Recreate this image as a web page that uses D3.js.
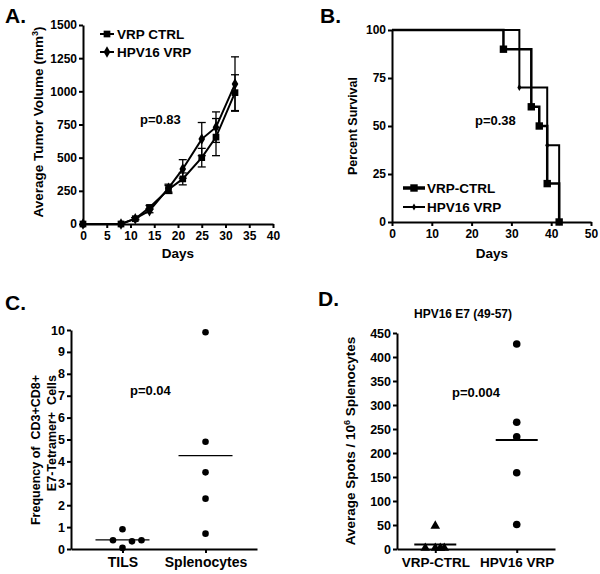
<!DOCTYPE html>
<html><head><meta charset="utf-8">
<script src="https://cdn.jsdelivr.net/npm/d3@7"></script>
<style>body{margin:0;background:#fff}svg{display:block}text{font-family:"Liberation Sans",Arial,sans-serif;font-weight:bold;fill:#000}</style>
</head><body><svg id="c" width="600" height="574"></svg>
<script>
// Panel A data
const daysA = [0, 8, 11, 14, 18, 21, 25, 28, 32];
const ctrlMean = [0, 0, 40, 125, 260, 340, 500, 655, 990];
const ctrlErr  = [0, 0, 8, 15, 30, 45, 70, 140, 135];
const hpvMean  = [0, 0, 40, 100, 270, 415, 640, 730, 1055];
const hpvErr   = [0, 0, 8, 15, 30, 70, 125, 115, 205];
const xTicksA = [0,5,10,15,20,25,30,35,40];
const yTicksA = [0,250,500,750,1000,1250,1500];
// Panel B data (Kaplan-Meier steps)
const survCtrlDays = [0, 28, 35, 37, 39, 42];
const survCtrlPct  = [100, 90, 60, 50, 20, 0];
const survHpvDays  = [0, 32, 39, 42];
const survHpvPct   = [100, 70, 40, 0];
const xTicksB = [0,10,20,30,40,50];
const yTicksB = [0,25,50,75,100];
// Panel C data
const catsC = ["TILS", "Splenocytes"];
const tilsVals = [0.9, 0.4, 0.35, 0.4, 0.05];
const tilsJitter = [0, -1, 1, 2, 0];
const splenoVals = [9.9, 4.9, 3.5, 2.3, 0.7];
const splenoJitter = [0, 0, 0, 0, 0];
const yTicksC = [0,1,2,3,4,5,6,7,8,9,10];
// Panel D data
const catsD = ["VRP-CTRL", "HPV16 VRP"];
const ctrlSpots = [46, 0, 0, 0, 0];
const ctrlJitter = [0, -2, 0, 1, 1.8];
const hpvSpots = [427, 264, 234, 159, 51];
const hpvJitter = [0, 0, 0, 0, 0];
const yTicksD = [0,50,100,150,200,250,300,350,400,450];

const svg = d3.select("#c");
const mean = a => d3.mean(a);
const fmt = d3.format("d");

function styleAxis(g,fs){
  g.selectAll(".domain").attr("stroke","#000").attr("stroke-width",2);
  g.selectAll(".tick line").attr("stroke","#000").attr("stroke-width",2);
  g.selectAll(".tick text").style("font-size",(fs||12)+"px").style("font-weight","bold").attr("fill","#000");
}
function rotLabel(x,y,txt,size,anchor){
  return svg.append("text").attr("transform",`translate(${x},${y}) rotate(-90)`)
    .attr("text-anchor",anchor||"middle").style("font-size",(size||13)+"px").text(txt);
}
function label(x,y,txt,size,anchor){
  return svg.append("text").attr("x",x).attr("y",y).attr("text-anchor",anchor||"start").style("font-size",(size||13)+"px").text(txt);
}

// ---------- Panel A ----------
{
  const x = d3.scaleLinear().domain([0,40]).range([83,273]);
  const y = d3.scaleLinear().domain([0,1500]).range([224,25]);
  const gx = svg.append("g").attr("transform","translate(0,224)").call(d3.axisBottom(x).tickValues(xTicksA).tickFormat(fmt).tickSize(4).tickSizeOuter(0).tickPadding(3));
  styleAxis(gx,12);
  const gy = svg.append("g").attr("transform","translate(83,0)").call(d3.axisLeft(y).tickValues(yTicksA).tickFormat(fmt).tickSize(4).tickSizeOuter(0).tickPadding(2));
  styleAxis(gy,12);
  const line = d3.line().x(d=>x(d[0])).y(d=>y(d[1]));
  const series = [
    {m:ctrlMean,e:ctrlErr,shape:"square"},
    {m:hpvMean,e:hpvErr,shape:"diamond"}
  ];
  series.forEach(s=>{
    const pts = daysA.map((d,i)=>[d,s.m[i],s.e[i]]);
    svg.append("path").attr("d",line(pts)).attr("fill","none").attr("stroke","#000").attr("stroke-width",2);
    pts.forEach(p=>{
      if(p[2]>0){
        const cx=x(p[0]);
        svg.append("line").attr("x1",cx).attr("x2",cx).attr("y1",y(p[1]-p[2])).attr("y2",y(p[1]+p[2])).attr("stroke","#000").attr("stroke-width",1.3);
        [p[1]-p[2],p[1]+p[2]].forEach(v=>svg.append("line").attr("x1",cx-4).attr("x2",cx+4).attr("y1",y(v)).attr("y2",y(v)).attr("stroke","#000").attr("stroke-width",1.3));
      }
    });
    svg.selectAll(null).data(pts).enter().append("path")
      .attr("transform",p=>`translate(${x(p[0])},${y(p[1])})`)
      .attr("d",d3.symbol().type(s.shape==="square"?d3.symbolSquare:d3.symbolDiamond).size(s.shape==="square"?45:38))
      .attr("fill","#000");
  });
  label(5,23,"A.",21);
  const t = svg.append("text").attr("transform","translate(43,122) rotate(-90)").attr("text-anchor","middle").style("font-size","13.5px");
  t.append("tspan").text("Average Tumor Volume (mm");
  t.append("tspan").attr("dy",-5).style("font-size","9px").text("3");
  t.append("tspan").attr("dy",5).text(")");
  label(178,258,"Days",13.5,"middle");
  label(140,124,"p=0.83",13);
  // legend
  [["VRP CTRL",d3.symbolSquare,45,34],["HPV16 VRP",d3.symbolDiamond,38,52]].forEach(l=>{
    svg.append("line").attr("x1",100).attr("x2",114).attr("y1",l[3]).attr("y2",l[3]).attr("stroke","#000").attr("stroke-width",2);
    svg.append("path").attr("transform",`translate(107,${l[3]})`).attr("d",d3.symbol().type(l[1]).size(l[2])).attr("fill","#000");
    label(117,l[3]+5,l[0],13.5);
  });
}

// ---------- Panel B ----------
{
  const x = d3.scaleLinear().domain([0,50]).range([392,591]);
  const y = d3.scaleLinear().domain([0,100]).range([222,30]);
  const gx = svg.append("g").attr("transform","translate(0,222)").call(d3.axisBottom(x).tickValues(xTicksB).tickFormat(fmt).tickSize(4).tickSizeOuter(0).tickPadding(3));
  styleAxis(gx,12);
  const gy = svg.append("g").attr("transform","translate(392,0)").call(d3.axisLeft(y).tickValues(yTicksB).tickFormat(fmt).tickSize(4).tickSizeOuter(0).tickPadding(2));
  styleAxis(gy,12);
  const step = d3.line().x(d=>x(d[0])).y(d=>y(d[1])).curve(d3.curveStepAfter);
  const hp = survHpvDays.map((d,i)=>[d,survHpvPct[i]]);
  const cp = survCtrlDays.map((d,i)=>[d,survCtrlPct[i]]);
  svg.append("path").attr("d",step(hp)).attr("fill","none").attr("stroke","#000").attr("stroke-width",2);
  svg.append("path").attr("d",step(cp)).attr("fill","none").attr("stroke","#000").attr("stroke-width",2.5);
  svg.selectAll(null).data(cp.slice(1)).enter().append("path")
    .attr("transform",p=>`translate(${x(p[0])},${y(p[1])})`).attr("d",d3.symbol().type(d3.symbolSquare).size(55)).attr("fill","#000");
  svg.selectAll(null).data(hp.slice(1)).enter().append("path")
    .attr("transform",p=>`translate(${x(p[0])},${y(p[1])})`).attr("d",d3.symbol().type(d3.symbolDiamond).size(14)).attr("fill","#000");
  label(320,23,"B.",21);
  rotLabel(357,126,"Percent Survival",12.5);
  label(492,258,"Days",13.5,"middle");
  label(475,125,"p=0.38",13);
  [["VRP-CTRL",d3.symbolSquare,55,3.5,188],["HPV16 VRP",d3.symbolDiamond,14,2,207]].forEach(l=>{
    svg.append("line").attr("x1",403).attr("x2",425).attr("y1",l[4]).attr("y2",l[4]).attr("stroke","#000").attr("stroke-width",l[3]);
    svg.append("path").attr("transform",`translate(414,${l[4]})`).attr("d",d3.symbol().type(l[1]).size(l[2])).attr("fill","#000");
    label(427,l[4]+5,l[0],13.5);
  });
}

// ---------- Panel C ----------
{
  const x = d3.scalePoint().domain(catsC).range([71,257]).padding(0.62);
  const y = d3.scaleLinear().domain([0,10]).range([549,330]);
  const gx = svg.append("g").attr("transform","translate(0,549)").call(d3.axisBottom(x).tickSize(4).tickSizeOuter(0).tickPadding(4));
  styleAxis(gx,14);
  const gy = svg.append("g").attr("transform","translate(71,0)").call(d3.axisLeft(y).tickValues(yTicksC).tickFormat(fmt).tickSize(4).tickSizeOuter(0).tickPadding(2));
  styleAxis(gy,12.5);
  const groups = [[catsC[0],tilsVals,tilsJitter],[catsC[1],splenoVals,splenoJitter]];
  groups.forEach(g=>{
    const cx = x(g[0]);
    svg.selectAll(null).data(g[1]).enter().append("circle")
      .attr("cx",(d,i)=>cx+g[2][i]*9.5).attr("cy",d=>y(d)).attr("r",3.3).attr("fill","#000");
    const m = mean(g[1]);
    svg.append("line").attr("x1",cx-27).attr("x2",cx+27).attr("y1",y(m)).attr("y2",y(m)).attr("stroke","#000").attr("stroke-width",1.3);
  });
  label(5,310,"C.",21);
  rotLabel(40,375,"Frequency of\u00a0 CD3+CD8+",12.5,"end");
  rotLabel(56,375,"E7-Tetramer+\u00a0 Cells",12.5,"end");
  label(130,395,"p=0.04",13);
}

// ---------- Panel D ----------
{
  const x = d3.scalePoint().domain(catsD).range([397,555]).padding(0.47);
  const y = d3.scaleLinear().domain([0,450]).range([549,333]);
  const gx = svg.append("g").attr("transform","translate(0,549)").call(d3.axisBottom(x).tickSize(4).tickSizeOuter(0).tickPadding(4));
  styleAxis(gx,13.5);
  const gy = svg.append("g").attr("transform","translate(397,0)").call(d3.axisLeft(y).tickValues(yTicksD).tickFormat(fmt).tickSize(4).tickSizeOuter(0).tickPadding(2));
  styleAxis(gy,12.5);
  const cx0 = x(catsD[0]);
  svg.selectAll(null).data(ctrlSpots).enter().append("path")
    .attr("transform",(d,i)=>`translate(${cx0+ctrlJitter[i]*5},${y(d)-1})`)
    .attr("d",d3.symbol().type(d3.symbolTriangle).size(40)).attr("fill","#000");
  const cx1 = x(catsD[1]);
  svg.selectAll(null).data(hpvSpots).enter().append("circle")
    .attr("cx",(d,i)=>cx1+hpvJitter[i]).attr("cy",d=>y(d)).attr("r",3.8).attr("fill","#000");
  [[cx0,ctrlSpots],[cx1,hpvSpots]].forEach(g=>{
    const m = mean(g[1]);
    svg.append("line").attr("x1",g[0]-21).attr("x2",g[0]+21).attr("y1",y(m)).attr("y2",y(m)).attr("stroke","#000").attr("stroke-width",2);
  });
  label(318,306,"D.",21);
  label(463,318,"HPV16 E7 (49-57)",12,"middle");
  const t = svg.append("text").attr("transform","translate(355,441) rotate(-90)").attr("text-anchor","middle").style("font-size","13.5px");
  t.append("tspan").text("Average Spots / 10");
  t.append("tspan").attr("dy",-5).style("font-size","9px").text("6");
  t.append("tspan").attr("dy",5).text(" Splenocytes");
  label(452,397,"p=0.004",13);
}
</script></body></html>
